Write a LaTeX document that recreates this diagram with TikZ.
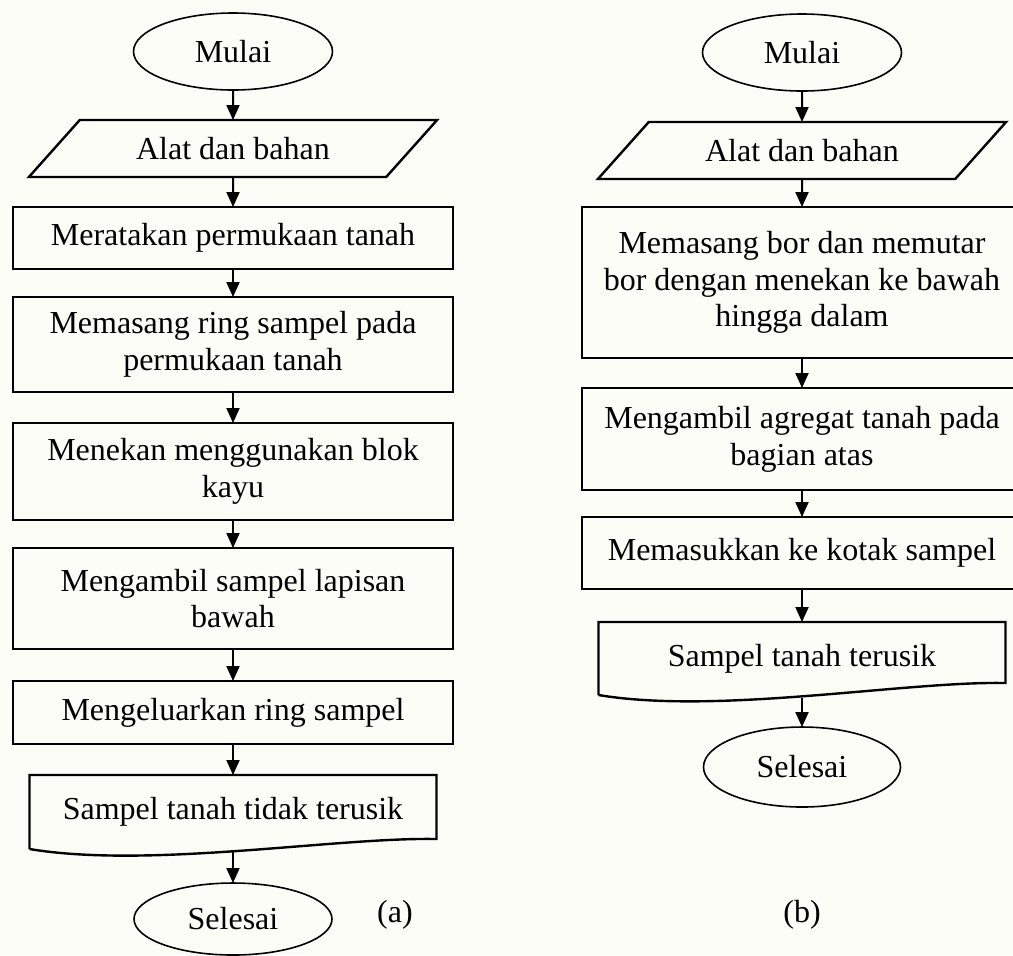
\documentclass[tikz,border=0pt]{standalone}
\usepackage{fontspec}
\setmainfont{Liberation Serif}
\usetikzlibrary{shapes.geometric}
\usetikzlibrary{arrows.meta}
\usetikzlibrary{positioning}
\definecolor{bgcream}{RGB}{253,253,248}

\begin{document}
\begin{tikzpicture}[x=0.5pt,y=-0.5pt,
  every node/.style={font=\fontsize{16}{18.4}\selectfont,align=center,inner sep=0pt,outer sep=0pt},
  terminal/.style={draw,ellipse,line width=0.8pt,minimum width=99.5pt,minimum height=38.5pt},
  io/.style={draw,trapezium,trapezium left angle=35,trapezium right angle=145,trapezium stretches=true,line width=1.2pt,minimum width=204.5pt,minimum height=28.5pt},
  process/.style={draw,rectangle,line width=1.2pt,minimum width=220pt},
  docbox/.style={rectangle,minimum width=203.5pt,minimum height=37pt},
  flow/.style={-{Triangle[length=7.5pt,width=6.5pt]},line width=1pt}]
  \fill[bgcream] (0,0) rectangle (1013,955);
  \useasboundingbox (0,0) rectangle (1013,955);
  % (a)
  \node[terminal] (a1) at (233,51.5) {Mulai};
  \node[io,below=15pt of a1] (a2) {Alat dan bahan};
  \node[process,below=15pt of a2,minimum height=31pt] (a3) {Meratakan permukaan tanah};
  \node[process,below=14pt of a3,minimum height=47.5pt] (a4) {Memasang ring sampel pada\\permukaan tanah};
  \node[process,below=15.5pt of a4,minimum height=48.5pt] (a5) {Menekan menggunakan blok\\kayu};
  \node[process,below=14pt of a5,minimum height=50.5pt] (a6) {Mengambil sampel lapisan\\bawah};
  \node[process,below=16pt of a6,minimum height=31.5pt] (a7) {Mengeluarkan ring sampel};
  \node[docbox,below=15.5pt of a7] (a8) {Sampel tanah tidak terusik};
  \node[terminal,below=17pt of a8,minimum width=99pt,minimum height=36pt] (a9) {Selesai};
  \draw[line width=1.2pt] (a8.south west) -- (a8.north west) -- (a8.north east) -- ([yshift=5pt]a8.south east)
    .. controls ([xshift=-50pt,yshift=6pt]a8.south east) and ([xshift=60pt,yshift=-10pt]a8.south west) .. (a8.south west);
  \draw[flow] (a1) -- (a2);
  \draw[flow] (a2) -- (a3);
  \draw[flow] (a3) -- (a4);
  \draw[flow] (a4) -- (a5);
  \draw[flow] (a5) -- (a6);
  \draw[flow] (a6) -- (a7);
  \draw[flow] (a7) -- (a8);
  \draw[flow] ([yshift=-1.5pt]a8.south) -- (a9);
  % (b)
  \node[terminal] (b1) at (802,52.5) {Mulai};
  \node[io,below=15.5pt of b1] (b2) {Alat dan bahan};
  \node[process,below=14pt of b2,minimum height=75.5pt] (b3) {Memasang bor dan memutar\\bor dengan menekan ke bawah\\hingga dalam};
  \node[process,below=15pt of b3,minimum height=51pt] (b4) {Mengambil agregat tanah pada\\bagian atas};
  \node[process,below=13.5pt of b4,minimum height=36pt] (b5) {Memasukkan ke kotak sampel};
  \node[docbox,below=16.5pt of b5,minimum height=36.5pt] (b6) {Sampel tanah terusik};
  \node[terminal,below=16pt of b6,minimum width=98.5pt,minimum height=40pt] (b7) {Selesai};
  \draw[line width=1.2pt] (b6.south west) -- (b6.north west) -- (b6.north east) -- ([yshift=6pt]b6.south east)
    .. controls ([xshift=-50pt,yshift=7pt]b6.south east) and ([xshift=60pt,yshift=-10pt]b6.south west) .. (b6.south west);
  \draw[flow] (b1) -- (b2);
  \draw[flow] (b2) -- (b3);
  \draw[flow] (b3) -- (b4);
  \draw[flow] (b4) -- (b5);
  \draw[flow] (b5) -- (b6);
  \draw[flow] ([yshift=-1.5pt]b6.south) -- (b7);
  % captions
  \node (la) at (395,915) {(a)};
  \node (lb) at (802,915) {(b)};
\end{tikzpicture}
\end{document}
